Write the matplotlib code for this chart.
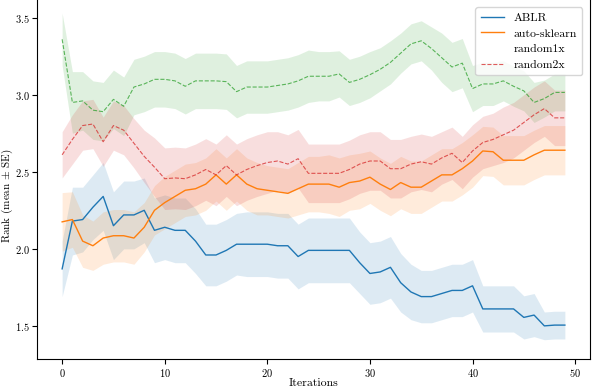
import numpy as np
import matplotlib
matplotlib.use("Agg")
import matplotlib.pyplot as plt
from matplotlib.lines import Line2D

plt.rcParams['font.family'] = 'serif'
plt.rcParams['font.serif'] = ['cmr10', 'DejaVu Serif']
plt.rcParams['mathtext.fontset'] = 'cm'
plt.rcParams['axes.unicode_minus'] = False
plt.rcParams['axes.formatter.use_mathtext'] = True

iterations = list(range(50))

ablr_mean = [1.87, 2.18, 2.19, 2.27, 2.34, 2.15, 2.22, 2.22, 2.25, 2.12,
             2.14, 2.12, 2.12, 2.05, 1.96, 1.96, 1.99, 2.03, 2.03, 2.03,
             2.03, 2.02, 2.02, 1.95, 1.99, 1.99, 1.99, 1.99, 1.99, 1.91,
             1.84, 1.85, 1.88, 1.78, 1.72, 1.69, 1.69, 1.71, 1.73, 1.73,
             1.76, 1.61, 1.61, 1.61, 1.61, 1.555, 1.57, 1.50, 1.505, 1.505]
ablr_se = [0.18, 0.22, 0.21, 0.21, 0.22, 0.22, 0.22, 0.22, 0.21, 0.21,
           0.21, 0.21, 0.21, 0.21, 0.20, 0.20, 0.20, 0.20, 0.21, 0.21,
           0.21, 0.21, 0.21, 0.21, 0.21, 0.21, 0.21, 0.21, 0.21, 0.20,
           0.20, 0.20, 0.20, 0.19, 0.18, 0.17, 0.17, 0.17, 0.17, 0.17,
           0.17, 0.15, 0.15, 0.15, 0.15, 0.14, 0.14, 0.09, 0.09, 0.09]

autosk_mean = [2.175, 2.19, 2.05, 2.02, 2.07, 2.085, 2.085, 2.07, 2.14, 2.25,
               2.30, 2.34, 2.38, 2.39, 2.42, 2.48, 2.42, 2.48, 2.42, 2.39,
               2.38, 2.37, 2.36, 2.39, 2.42, 2.42, 2.42, 2.40, 2.43, 2.44,
               2.465, 2.42, 2.385, 2.43, 2.40, 2.40, 2.44, 2.48, 2.48, 2.52,
               2.57, 2.635, 2.63, 2.575, 2.575, 2.575, 2.61, 2.64, 2.64, 2.64]
autosk_se = [0.19, 0.18, 0.17, 0.16, 0.17, 0.17, 0.17, 0.17, 0.16, 0.16,
             0.17, 0.17, 0.17, 0.17, 0.17, 0.17, 0.17, 0.17, 0.17, 0.17,
             0.16, 0.16, 0.16, 0.17, 0.18, 0.18, 0.19, 0.19, 0.18, 0.18,
             0.17, 0.17, 0.17, 0.17, 0.17, 0.17, 0.17, 0.17, 0.17, 0.17,
             0.17, 0.16, 0.16, 0.16, 0.16, 0.16, 0.16, 0.16, 0.16, 0.16]

random1x_mean = [3.36, 2.95, 2.96, 2.90, 2.89, 2.97, 2.925, 3.05, 3.07, 3.10,
                 3.10, 3.09, 3.055, 3.09, 3.09, 3.09, 3.085, 3.02, 3.05, 3.05,
                 3.05, 3.06, 3.07, 3.09, 3.12, 3.12, 3.12, 3.135, 3.08, 3.10,
                 3.13, 3.165, 3.21, 3.27, 3.33, 3.35, 3.30, 3.24, 3.18, 3.205,
                 3.04, 3.07, 3.07, 3.09, 3.055, 3.025, 2.95, 2.975, 3.015, 3.015]
random1x_se = [0.17, 0.20, 0.19, 0.19, 0.19, 0.19, 0.19, 0.18, 0.18, 0.18,
               0.18, 0.18, 0.18, 0.18, 0.18, 0.18, 0.18, 0.17, 0.17, 0.17,
               0.17, 0.17, 0.17, 0.17, 0.17, 0.16, 0.16, 0.15, 0.15, 0.15,
               0.15, 0.14, 0.14, 0.13, 0.13, 0.13, 0.14, 0.16, 0.16, 0.16,
               0.15, 0.14, 0.14, 0.13, 0.13, 0.13, 0.13, 0.12, 0.12, 0.12]

random2x_mean = [2.61, 2.71, 2.80, 2.81, 2.695, 2.80, 2.77, 2.685, 2.60, 2.53,
                 2.455, 2.46, 2.455, 2.48, 2.515, 2.48, 2.54, 2.48, 2.515, 2.54,
                 2.56, 2.57, 2.55, 2.585, 2.49, 2.49, 2.49, 2.49, 2.515, 2.55,
                 2.57, 2.57, 2.52, 2.52, 2.55, 2.565, 2.55, 2.59, 2.62, 2.56,
                 2.635, 2.69, 2.71, 2.74, 2.77, 2.82, 2.87, 2.91, 2.85, 2.85]
random2x_se = [0.15, 0.16, 0.16, 0.16, 0.16, 0.16, 0.16, 0.16, 0.17, 0.19,
               0.20, 0.20, 0.20, 0.20, 0.20, 0.20, 0.20, 0.20, 0.20, 0.20,
               0.20, 0.19, 0.19, 0.19, 0.19, 0.19, 0.19, 0.19, 0.19, 0.19,
               0.19, 0.19, 0.19, 0.19, 0.18, 0.18, 0.18, 0.17, 0.17, 0.17,
               0.17, 0.17, 0.17, 0.18, 0.18, 0.18, 0.18, 0.18, 0.18, 0.18]

series_names = ["ABLR", "auto-sklearn", "random1x", "random2x"]
colors = ["#1f77b4", "#ff7f0e", "#2ca02c", "#d62728"]

fig = plt.figure(figsize=(5.92, 3.88), dpi=100)
ax = fig.add_axes([37/592, 29/388, (590-37)/592, 1.01 - 29/388])

x = np.array(iterations)
data = [(ablr_mean, ablr_se, '-', 1.0, 1.0),
        (autosk_mean, autosk_se, '-', 1.0, 1.0),
        (random1x_mean, random1x_se, '--', 0.8, 0.75),
        (random2x_mean, random2x_se, '--', 0.8, 0.75)]
for (m, s, ls, lw, a), c in zip(data, colors):
    m = np.array(m); s = np.array(s)
    ax.fill_between(x, m - s, m + s, color=c, alpha=0.15, linewidth=0)
    ax.plot(x, m, ls, color=c, lw=lw, alpha=a)

ax.set_xlim(-2.45, 51.45)
ax.set_ylim(1.285, 3.64)
ax.set_xticks([0, 10, 20, 30, 40, 50])
ax.set_yticks([1.5, 2.0, 2.5, 3.0, 3.5])
ax.tick_params(labelsize=7.5, pad=2, length=3.5)
ax.set_xlabel("Iterations", fontsize=8.5, labelpad=0)
ax.set_ylabel(r"Rank (mean $\pm$ SE)", fontsize=8)
ax.yaxis.set_label_coords(-0.039, 0.45)

handles = [Line2D([], [], color=colors[0], lw=1.0),
           Line2D([], [], color=colors[1], lw=1.0),
           Line2D([], [], color='none', lw=1.0),
           Line2D([], [], color=colors[3], lw=0.8, ls='--', alpha=0.75)]
ax.legend(handles, series_names, loc='upper right', fontsize=8.5,
          bbox_to_anchor=(0.997, 0.985), framealpha=0.8, edgecolor='#cccccc',
          handlelength=2.0, borderpad=0.45, labelspacing=0.45)

fig.savefig("out.png", dpi=100)
